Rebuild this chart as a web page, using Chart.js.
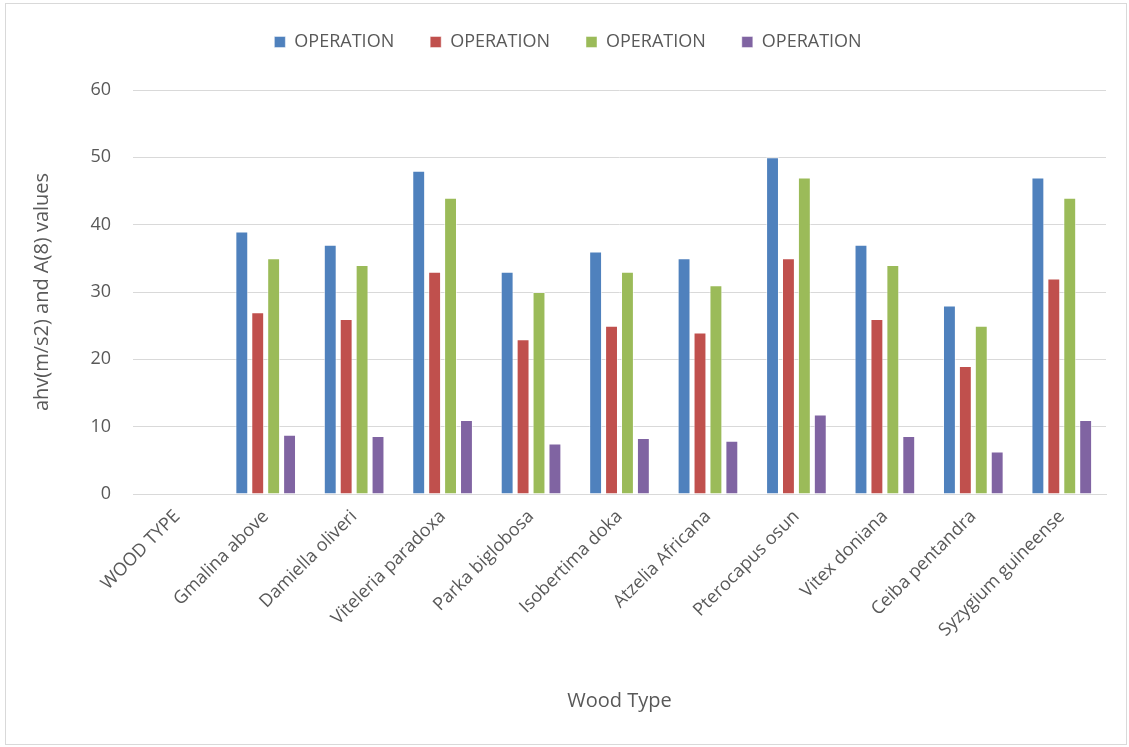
<!DOCTYPE html>
<html>
<head>
<meta charset="utf-8">
<script src="https://cdn.jsdelivr.net/npm/chart.js@4.4.1/dist/chart.umd.min.js"></script>
<style>
  html, body { margin: 0; padding: 0; background: #fff; }
  .frame {
    position: absolute; left: 5px; top: 3px;
    width: 1120px; height: 740px;
    border: 1px solid #d9d9d9;
  }
  canvas { display: block; }
</style>
</head>
<body>
<div class="frame"><canvas id="chart" width="1120" height="740"></canvas></div>
<script>
const woodTypes = ["WOOD TYPE", "Gmalina above", "Damiella oliveri", "Viteleria paradoxa", "Parka biglobosa",
  "Isobertima doka", "Atzelia Africana", "Pterocapus osun", "Vitex doniana", "Ceiba pentandra", "Syzygium guineense"];
const seriesLabels = ["OPERATION", "OPERATION", "OPERATION", "OPERATION"];
const blueValues   = [null, 39, 37, 48, 33, 36, 35, 50, 37, 28, 47];
const redValues    = [null, 27, 26, 33, 23, 25, 24, 35, 26, 19, 32];
const greenValues  = [null, 35, 34, 44, 30, 33, 31, 47, 34, 25, 44];
const purpleValues = [null, 8.8, 8.6, 11, 7.5, 8.3, 7.9, 11.8, 8.6, 6.3, 11];
const yTicks = [0, 10, 20, 30, 40, 50, 60];

const colors = ["#4f81bd", "#c0504d", "#9bbb59", "#8064a2"];
const allValues = [blueValues, redValues, greenValues, purpleValues];
const fontFamily = "'Open Sans', 'Liberation Sans', sans-serif";
const grey = "#595959";

// extra room under the legend
const legendGap = {
  id: "legendGap",
  beforeInit(chart) {
    const fit = chart.legend.fit;
    chart.legend.fit = function () {
      fit.bind(chart.legend)();
      this.height += 29;
    };
  }
};

new Chart(document.getElementById("chart"), {
  type: "bar",
  data: {
    labels: woodTypes,
    datasets: allValues.map((vals, i) => ({
      label: seriesLabels[i],
      data: vals,
      backgroundColor: colors[i],
      borderColor: "rgba(255,255,255,0.6)",
      borderWidth: { top: 1, left: 1, right: 1, bottom: 0 },
      categoryPercentage: 0.72,
      barPercentage: 0.81
    }))
  },
  options: {
    responsive: false,
    animation: false,
    layout: { padding: { top: -7, right: 20, left: 24, bottom: 0 } },
    plugins: {
      legend: {
        position: "top",
        labels: {
          color: grey,
          font: { family: fontFamily, size: 18 },
          boxWidth: 11, boxHeight: 11, padding: 36
        }
      },
      tooltip: { enabled: false }
    },
    scales: {
      x: {
        grid: { display: false },
        border: { color: "#d9d9d9", width: 1 },
        ticks: {
          color: grey, font: { family: fontFamily, size: 18 },
          minRotation: 45, maxRotation: 45, autoSkip: false, padding: 4
        },
        title: {
          display: true, text: "Wood Type", color: grey,
          font: { family: fontFamily, size: 20 }, padding: { top: 0, bottom: 31 }
        },
        afterFit: (s) => { s.height = 250; }
      },
      y: {
        min: 0, max: 60,
        afterBuildTicks: (s) => { s.ticks = yTicks.map((v) => ({ value: v })); },
        grid: { color: "#d9d9d9", drawTicks: false },
        border: { display: false },
        ticks: { color: grey, font: { family: fontFamily, size: 18 }, padding: 22 },
        title: {
          display: true, text: "ahv(m/s2) and A(8) values", color: grey,
          font: { family: fontFamily, size: 20 }, padding: { top: 0, bottom: 10 }
        },
        afterFit: (s) => { s.width = 103; }
      }
    }
  },
  plugins: [legendGap]
});
</script>
</body>
</html>
